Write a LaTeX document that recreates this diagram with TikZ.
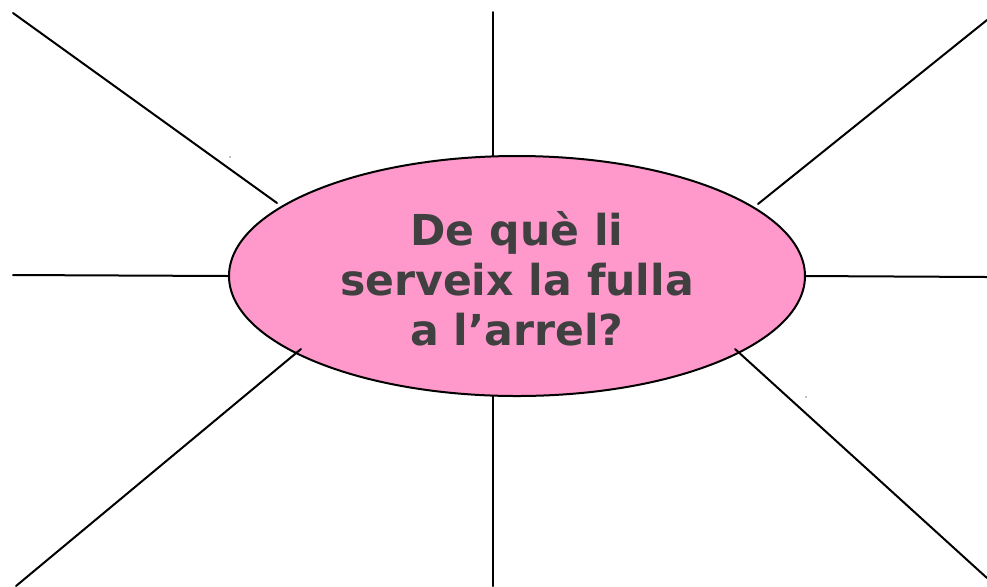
\documentclass[tikz,border=0pt]{standalone}
\usepackage{fontspec}
\setsansfont{DejaVu Sans}
\usetikzlibrary{shapes.geometric}
\definecolor{bubblepink}{HTML}{FF99CC}
\definecolor{inkgray}{HTML}{404040}
\tikzset{
bubble/.style={
	  draw, ellipse, fill=bubblepink, line width=1pt,
	    minimum width=288pt, minimum height=120pt, inner sep=0pt},
spoke/.style={line width=1pt, line cap=round},
question/.style={text=inkgray, align=center, font=\sffamily\bfseries\fontsize{21.3}{25}\selectfont}
}

\begin{document}
\begin{tikzpicture}[x=0.5pt, y=-0.5pt]
	\useasboundingbox (0,0) rectangle (987,586);
	\node[bubble] (bubble) at (517,276) {};
	\node[question] (q) at (517,279) {De què li\\serveix la fulla\\a l’arrel?};
	% outer ends
	\coordinate (nw) at (13,13);  \coordinate (nwin) at (277,203);
	\coordinate (n) at (493,12);  \coordinate (nin) at (493,156);
	\coordinate (ne) at (987,20); \coordinate (nein) at (758,204);
	\coordinate (w) at (13,275);  \coordinate (win) at (229,276);
	\coordinate (e) at (987,277); \coordinate (ein) at (805,276);
	\coordinate (sw) at (16,586); \coordinate (swin) at (301,349);
	\coordinate (s) at (493,586); \coordinate (sin) at (493,396);
	\coordinate (se) at (987,578); \coordinate (sein) at (735,349);
	\foreach \a/\b in {nw/nwin, n/nin, ne/nein, w/win, e/ein, sw/swin, s/sin, se/sein}
		\draw[spoke] (\a) -- (\b);
	% specks
	\fill[gray] (230,157) circle (0.8);
	\fill[gray] (806,397) circle (0.8);
\end{tikzpicture}
\end{document}
